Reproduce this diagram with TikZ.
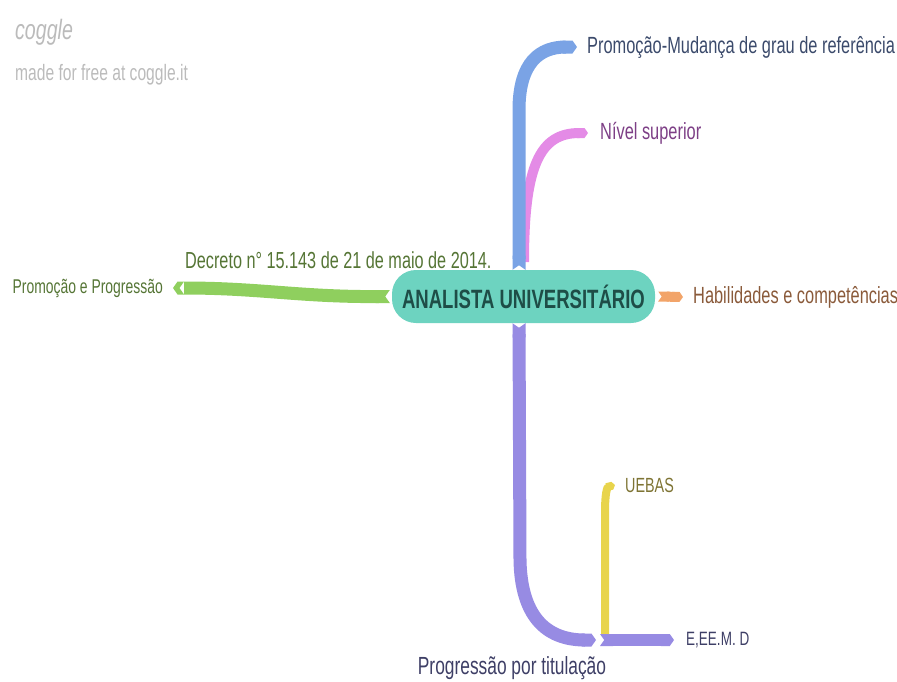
\documentclass[tikz,border=0pt]{standalone}
\usepackage{fontspec}
\setmainfont[FakeStretch=0.70]{Liberation Sans}
\usetikzlibrary{arrows.meta}
\definecolor{cteal}{HTML}{6DD3C0}
\definecolor{cteald}{HTML}{1E4D47}
\definecolor{cblue}{HTML}{7AA3E5}
\definecolor{cbluet}{HTML}{3B4A6B}
\definecolor{cpink}{HTML}{E48BE6}
\definecolor{cpinkt}{HTML}{7D3F86}
\definecolor{cgreen}{HTML}{8FCF5E}
\definecolor{cgreent}{HTML}{557535}
\definecolor{corange}{HTML}{F2A469}
\definecolor{coranget}{HTML}{8A5A3A}
\definecolor{cpurple}{HTML}{978BE3}
\definecolor{cpurplet}{HTML}{3E3F66}
\definecolor{cyellow}{HTML}{E8D44C}
\definecolor{cyellowt}{HTML}{7E7434}
\definecolor{cgray}{HTML}{BBBBBB}
\tikzset{
  lbl/.style={anchor=west,inner sep=0pt,font=\fontsize{23.4}{25}\selectfont},
  ribbon/.style={line width=#1,line cap=butt,{Triangle Cap[reversed,cap angle=110]}-{Triangle Cap[cap angle=110]}},
  ribbon/.default=12pt,
}
\begin{document}
\begin{tikzpicture}[x=1pt,y=-1pt]
\useasboundingbox (0,0) rectangle (897,681);
% watermark
\node[anchor=west,inner sep=0pt,text=cgray,font=\fontsize{28}{30}\selectfont\itshape] (logo) at (15,32) {coggle};
\node[anchor=west,inner sep=0pt,text=cgray,font=\fontsize{22.3}{24}\selectfont] (made) at (15,75) {made for free at coggle.it};
% central node
\node[fill=cteal,rounded corners=24pt,minimum width=263pt,minimum height=53pt,inner sep=0pt,
  text=cteald,font=\fontsize{26.5}{28}\selectfont\bfseries] (center) at (523.5,296.5) {ANALISTA UNIVERSITÁRIO};
% labels
\node[lbl,text=cbluet] (promo) at (587,47) {Promoção-Mudança de grau de referência};
\node[lbl,text=cpinkt] (nivel) at (600,133) {Nível superior};
\node[lbl,text=cgreent,font=\fontsize{23.2}{25}\selectfont] (decreto) at (185,260) {Decreto n° 15.143 de 21 de maio de 2014.};
\node[lbl,text=cgreent,anchor=east,font=\fontsize{19.9}{22}\selectfont] (promprog) at (163,288) {Promoção e Progressão};
\node[lbl,text=coranget] (habil) at (693,297) {Habilidades e competências};
\node[lbl,text=cpurplet,anchor=center,font=\fontsize{24.8}{26}\selectfont] (progtit) at (512,668) {Progressão por titulação};
\node[lbl,text=cpurplet,font=\fontsize{19.3}{21}\selectfont] (eeemd) at (686,640) {E,EE.M. D};
\node[lbl,text=cyellowt,font=\fontsize{20.5}{22}\selectfont] (uebas) at (625,485) {UEBAS};
% junction coordinates
\coordinate (pj) at (600,640);
\coordinate (yj) at (605,634);
% branches
\draw[cpink,line width=10pt,line cap=butt,-{Triangle Cap[cap angle=110]}] (524,262) .. controls (524,165) and (540,133) .. ([xshift=-12pt]nivel.west);
\draw[cblue,ribbon=13pt] ([xshift=-4.5pt]center.north) -- (519,110) .. controls (519,62) and (540,47) .. ([xshift=-10pt]promo.west);
\draw[cgreen,line width=13pt,line cap=butt,{Triangle Cap[reversed,cap angle=110]}-{Fast Triangle[cap angle=110]}] ([xshift=-2pt]center.west) .. controls (300,297) and (260,288) .. ([xshift=10pt]promprog.east);
\draw[corange,ribbon=10pt] ([xshift=3pt]center.east) -- ([xshift=-10pt]habil.west);
\draw[cpurple,ribbon=13pt] ([xshift=-4.5pt]center.south) -- (520,560) .. controls (521,615) and (545,640) .. ([xshift=-4pt]pj);
\draw[cyellow,line width=8pt,line cap=butt,-{Triangle Cap[cap angle=110]}] (yj) -- (605,512) .. controls (605,494) and (607,487) .. ([xshift=-10pt]uebas.west);
\draw[cpurple,ribbon=12pt] (pj) -- ([xshift=-12pt]eeemd.west);
\end{tikzpicture}
\end{document}
